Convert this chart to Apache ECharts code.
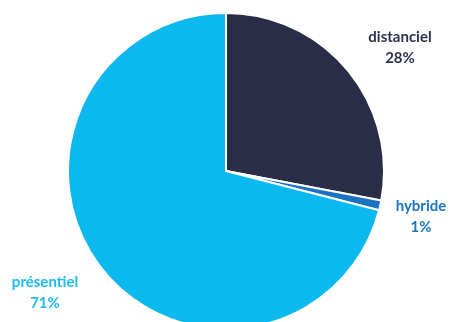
<!DOCTYPE html>
<html><head><meta charset="utf-8">
<script src="https://cdn.jsdelivr.net/npm/echarts@6/dist/echarts.min.js"></script>
<style>html,body{margin:0;padding:0;background:#fff}#c{width:454px;height:322px}</style>
</head><body><div id="c"></div>
<script>
const categories = ['distanciel', 'hybride', 'présentiel'];
const values = [28, 1, 71];
const colors = ['#2b2d48', '#1a72c0', '#0cb9ef'];
const labelColors = ['#2e3250', '#1b75bc', '#1dbbee'];
const labelPos = [[400, 48], [421, 217], [45, 293]];

const chart = echarts.init(document.getElementById('c'), null, {renderer: 'canvas'});
chart.setOption({
  animation: false,
  series: [{
    type: 'pie',
    center: [226, 171],
    radius: [0, 158],
    startAngle: 90,
    clockwise: true,
    data: categories.map((c, i) => ({
      name: c, value: values[i],
      itemStyle: {color: colors[i]},
      label: {color: labelColors[i]}
    })),
    itemStyle: {borderColor: '#fff', borderWidth: 2},
    label: {
      show: true,
      position: 'outside',
      formatter: p => p.name + '\n' + Math.round(p.percent) + '%',
      fontFamily: 'Lato',
      fontWeight: 'bold',
      fontSize: 15,
      lineHeight: 21,
      align: 'center',
      overflow: 'none',
      width: 120
    },
    labelLine: {show: false},
    labelLayout: p => ({
      x: labelPos[p.dataIndex][0],
      y: labelPos[p.dataIndex][1],
      align: 'center',
      verticalAlign: 'middle'
    })
  }]
});
</script></body></html>
